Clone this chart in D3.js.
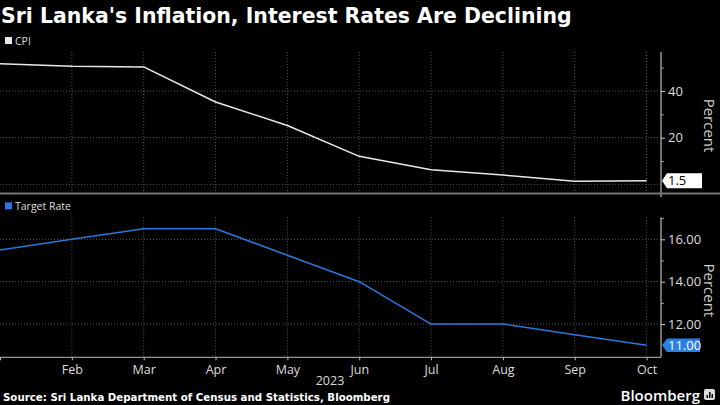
<!DOCTYPE html>
<html><head><meta charset="utf-8">
<script src="https://cdn.jsdelivr.net/npm/d3@7"></script>
<style>html,body{margin:0;padding:0;background:#000;}svg{display:block;}</style>
</head><body>
<svg id="c" width="720" height="405"></svg>
<script>
const months = ["Jan","Feb","Mar","Apr","May","Jun","Jul","Aug","Sep","Oct"];
const tickMonths = ["Feb","Mar","Apr","May","Jun","Jul","Aug","Sep","Oct"];
const cpi = [51.7, 50.6, 50.3, 35.3, 25.2, 12.0, 6.3, 4.0, 1.3, 1.5];
const targetRate = [15.5, 16.0, 16.5, 16.5, 15.25, 14.0, 12.0, 12.0, 11.5, 11.0];
const cpiTicks = [20, 40];
const cpiMinor = [10, 30, 50];
const cpiGrid = [0, 20, 40];
const rateTicks = [12, 14, 16];
const rateMinor = [13, 15, 17];
const title = "Sri Lanka's Inflation, Interest Rates Are Declining";
const source = "Source: Sri Lanka Department of Census and Statistics, Bloomberg";

const svg = d3.select("#c");
svg.append("rect").attr("width",720).attr("height",405).attr("fill","#000");
const font = "'Open Sans', 'Noto Sans', sans-serif";
const axisX = 661;

const x = d3.scalePoint().domain(months).range([0, 646.6]);

const t = svg.append("text").attr("x",1).attr("y",23).attr("fill","#fff")
  .attr("font-family","'DejaVu Sans', Verdana, sans-serif").attr("font-weight","bold")
  .attr("font-size",19).text(title);
const tw = t.node().getComputedTextLength();
t.attr("font-size", 19*571/tw);

function panel(opts){
  const g = svg.append("g");
  const y = d3.scaleLinear().domain(opts.domain).range([opts.bottom, opts.top]);
  g.selectAll(".hg").data(opts.grid).enter().append("line")
    .attr("x1",0).attr("x2",axisX).attr("y1",d=>y(d)).attr("y2",d=>y(d))
    .attr("stroke","#555").attr("stroke-width",1).attr("stroke-dasharray","1,2");
  g.selectAll(".vg").data(tickMonths).enter().append("line")
    .attr("x1",d=>x(d)).attr("x2",d=>x(d)).attr("y1",opts.top).attr("y2",opts.bottom)
    .attr("stroke","#555").attr("stroke-width",1).attr("stroke-dasharray","1,2");
  const line = d3.line().x((d,i)=>x(months[i])).y(d=>y(d));
  g.append("path").datum(opts.values).attr("d",line).attr("fill","none")
    .attr("stroke",opts.color).attr("stroke-width",1.5).attr("stroke-linejoin","round");
  const ax = g.append("g").attr("transform",`translate(${axisX},0)`)
    .call(d3.axisRight(y).tickValues(opts.ticks).tickSize(4).tickPadding(3).tickFormat(opts.fmt));
  ax.select(".domain").remove();
  ax.selectAll("line").attr("stroke","#ccc");
  ax.selectAll("text").attr("fill","#ddd").attr("font-family",font).attr("font-size",13);
  g.append("g").attr("transform",`translate(${axisX},0)`)
    .call(d3.axisRight(y).tickValues(opts.minor).tickSize(3).tickFormat(""))
    .call(s=>{s.select(".domain").remove(); s.selectAll("line").attr("stroke","#999");});
  g.append("line").attr("x1",axisX).attr("x2",axisX).attr("y1",opts.top).attr("y2",opts.bottom+opts.axisExt)
    .attr("stroke","#bbb").attr("stroke-width",1.2);
  g.append("text").attr("transform",`translate(704,${(opts.top+opts.bottom)/2+3}) rotate(90)`)
    .attr("text-anchor","middle").attr("fill","#ccc").attr("font-family",font).attr("font-size",15)
    .text("Percent");
  g.append("rect").attr("x",5).attr("y",opts.top-15).attr("width",7).attr("height",7).attr("fill",opts.color);
  g.append("text").attr("x",15).attr("y",opts.top-7.5).attr("fill","#ddd").attr("font-family",font)
    .attr("font-size",10.5).text(opts.name);
  const last = opts.values[opts.values.length-1];
  const yc = y(last), h = opts.boxH, x0 = axisX+1, w = opts.boxW;
  g.append("path").attr("d",`M${x0},${yc} L${x0+5},${yc-h/2} L${x0+w},${yc-h/2} L${x0+w},${yc+h/2} L${x0+5},${yc+h/2} Z`)
    .attr("fill",opts.boxFill);
  g.append("text").attr("x",x0+6).attr("y",yc+4.5).attr("fill",opts.boxText)
    .attr("font-family",font).attr("font-size",13).text(opts.fmt(last));
  return {g,y};
}

const topPanel = panel({domain:[-3.7,56.7], top:52, bottom:193, values:cpi, color:"#e8e8e8",
  grid:cpiGrid, ticks:cpiTicks, minor:cpiMinor, fmt:d3.format("~g"), name:"CPI",
  boxFill:"#fff", boxText:"#000", boxW:40, boxH:15, axisExt:4});
svg.append("line").attr("x1",0).attr("x2",720).attr("y1",193.5).attr("y2",193.5)
  .attr("stroke","#777").attr("stroke-width",2);

const botPanel = panel({domain:[10.43,17.04], top:217.3, bottom:357.3, values:targetRate, color:"#2a78dc",
  grid:rateTicks, ticks:rateTicks, minor:rateMinor, fmt:d3.format(".2f"), name:"Target Rate",
  boxFill:"#2b7fe3", boxText:"#fff", boxW:38, boxH:13.5, axisExt:0});

const xa = svg.append("g").attr("transform","translate(0,357.3)")
  .call(d3.axisBottom(x).tickValues(months).tickSize(3).tickPadding(5).tickFormat(d=>d==="Jan"?"":d));
xa.select(".domain").attr("d","M0,0H"+axisX).attr("stroke","#bbb");
xa.selectAll("line").attr("stroke","#bbb");
xa.selectAll("text").attr("fill","#ddd").attr("font-family",font).attr("font-size",12.5);
svg.append("text").attr("x",330).attr("y",385).attr("text-anchor","middle").attr("fill","#ddd")
  .attr("font-family",font).attr("font-size",12.5).text("2023");

svg.append("text").attr("x",3).attr("y",401).attr("fill","#fff")
  .attr("font-family","'DejaVu Sans', Verdana, sans-serif").attr("font-weight","bold")
  .attr("font-size",11).attr("textLength",387).attr("lengthAdjust","spacingAndGlyphs").text(source);
svg.append("text").attr("x",700).attr("y",401).attr("text-anchor","end").attr("fill","#fff")
  .attr("font-family",font).attr("font-weight",600).attr("font-size",15).text("Bloomberg");
svg.append("rect").attr("x",704).attr("y",389).attr("width",11).attr("height",11).attr("rx",2).attr("fill","#ddd");
[[706.5,395,1.5,3],[709,392,1.5,6],[711.5,394,1.5,4]].forEach(b=>
  svg.append("rect").attr("x",b[0]).attr("y",b[1]).attr("width",b[2]).attr("height",b[3]).attr("fill","#000"));
</script>
</body></html>
